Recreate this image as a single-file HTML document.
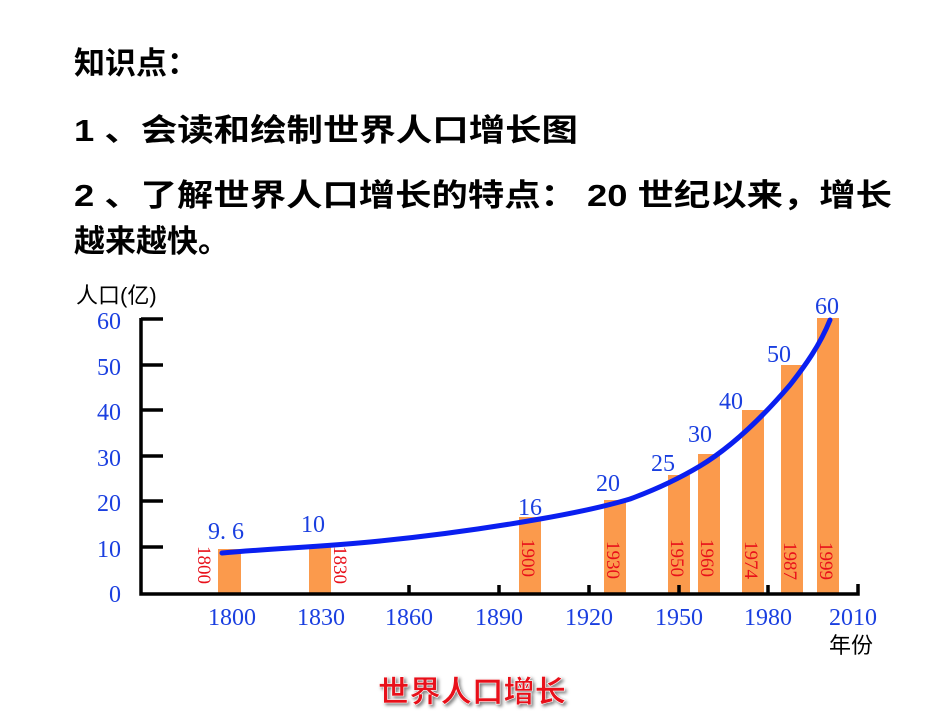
<!DOCTYPE html>
<html><head><meta charset="utf-8"><style>
html,body{margin:0;padding:0;background:#fff;}
svg{display:block;}
.h{font-family:"Liberation Sans","Noto Sans CJK SC",sans-serif;font-weight:bold;font-size:31px;fill:#000;}
.b{font-family:"Liberation Serif","Noto Serif CJK SC",serif;font-size:24px;fill:#1a3fe0;}
.r{font-family:"Liberation Serif",serif;font-size:19px;fill:#e8101a;}
.k{font-family:"Liberation Sans","Noto Sans CJK SC",sans-serif;font-size:22px;fill:#000;}
</style></head><body>
<svg width="950" height="713" viewBox="0 0 950 713">
<text class="h" x="74" y="74">知识点：</text>
<text class="h" x="74" y="141" textLength="504" lengthAdjust="spacingAndGlyphs">1 、会读和绘制世界人口增长图</text>
<text class="h" x="74" y="206" textLength="818" lengthAdjust="spacingAndGlyphs">2 、了解世界人口增长的特点： 20 世纪以来，增长</text>
<text class="h" x="74" y="252">越来越快。</text>

<text class="k" x="76" y="303">人口(亿)</text>
<g class="b" text-anchor="end">
<text x="121" y="329">60</text><text x="121" y="375">50</text><text x="121" y="420">40</text>
<text x="121" y="466">30</text><text x="121" y="511">20</text><text x="121" y="557">10</text><text x="121" y="602">0</text>
</g>
<g fill="#fb9a4c">
<rect x="218" y="549" width="23" height="44"/>
<rect x="309" y="545" width="22" height="48"/>
<rect x="519" y="517" width="22" height="76"/>
<rect x="604" y="500" width="22" height="93"/>
<rect x="668" y="475" width="22" height="118"/>
<rect x="698" y="454" width="22" height="139"/>
<rect x="742" y="410" width="22" height="183"/>
<rect x="781" y="365" width="22" height="228"/>
<rect x="817" y="318" width="22" height="275"/>
</g>
<g class="r">
<text transform="translate(198,546) rotate(90)">1800</text>
<text transform="translate(334,546) rotate(90)">1830</text>
<text transform="translate(522,539) rotate(90)">1900</text>
<text transform="translate(607,541) rotate(90)">1930</text>
<text transform="translate(671,539) rotate(90)">1950</text>
<text transform="translate(701,539) rotate(90)">1960</text>
<text transform="translate(745,541) rotate(90)">1974</text>
<text transform="translate(784,542) rotate(90)">1987</text>
<text transform="translate(820,542) rotate(90)">1999</text>
</g>
<g stroke="#000" stroke-width="3.5" fill="none">
<path d="M141 318 V594 H858 V584"/>
<path d="M141 319 H163 M141 365 H163 M141 410 H163 M141 456 H163 M141 501 H163 M141 547 H163"/>
<path d="M409 594 V585 M499 594 V585 M589 594 V585 M679 594 V585 M768 594 V585"/>
</g>
<path d="M222 553 C280 548 320 547 380 541 C440 535 500 526 540 519 C580 512 610 505 630 499 C660 488 680 478 700 466 C730 448 760 420 790 385 C805 366 820 345 830 320" stroke="#0a1ff0" stroke-width="5" fill="none" stroke-linecap="round"/>
<g class="b" text-anchor="middle">
<text x="226" y="539">9. 6</text><text x="313" y="532">10</text><text x="530" y="515">16</text>
<text x="608" y="491">20</text><text x="663" y="471">25</text><text x="700" y="442">30</text>
<text x="731" y="409">40</text><text x="779" y="362">50</text><text x="827" y="314">60</text>
</g>
<g class="b" text-anchor="middle">
<text x="232" y="625">1800</text><text x="321" y="625">1830</text><text x="409" y="625">1860</text>
<text x="499" y="625">1890</text><text x="589" y="625">1920</text><text x="679" y="625">1950</text>
<text x="768" y="625">1980</text><text x="853" y="625">2010</text>
</g>
<text class="k" x="829" y="653">年份</text>
<text x="378" y="702" textLength="188" lengthAdjust="spacingAndGlyphs" style="font-family:'Liberation Sans','Noto Sans CJK SC',sans-serif;font-weight:bold;font-size:30px;fill:#e8101a;stroke:#fff;stroke-width:0.6px;filter:drop-shadow(2px 2px 1.5px rgba(0,0,0,0.5));">世界人口增长</text>
</svg>
</body></html>
